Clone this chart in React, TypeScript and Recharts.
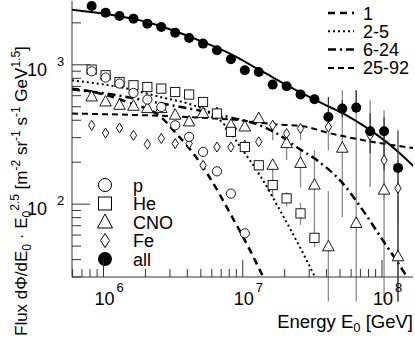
import React from 'react';
import { ComposedChart, XAxis, YAxis, Scatter, Line, ErrorBar, Customized } from 'recharts';

// ---- data ----
const energies = [8.22e5, 1.035e6, 1.303e6, 1.641e6, 2.065e6, 2.6e6, 3.273e6, 4.121e6, 5.188e6, 6.531e6, 8.222e6, 1.035e7, 1.303e7, 1.641e7, 2.065e7, 2.6e7, 3.273e7, 4.121e7, 5.188e7, 6.531e7, 8.222e7, 1.035e8, 1.303e8];

const allFlux = [2640, 2367, 2238, 2144, 1974, 1866, 1701, 1556, 1419, 1270, 1095, 913, 888, 721, 701, 612, 566, 422, 485, 493, 334, 334, 182];
const pFlux = [898, 810, 733, 628, 563, 498, 368, 304, 237, 172, 119, 61.7, null, null, null, null, null, null, null, null, null, null, null];
const heFlux = [924, 841, 753, 713, 693, 675, 638, 612, 541, 447, 330, 257, 190, 137, 110, 85.8, 57.3, null, null, null, null, null, null];
const cnoFlux = [588, 541, 512, 504, 485, 485, 435, 389, 447, 447, 368, 358, 411, 190, 272, 196, 137, 49.4, 252, 72.7, null, 126, 41.9];
const feFlux = [368, 324, 352, 312, 269, 296, 272, 272, 190, 257, 257, 265, 280, 368, 321, 349, null, 358, null, null, 312, 207, 130];

// error ranges (absolute flux, low / high) where visible
const allErrLow = [null, null, null, null, null, null, null, null, null, null, null, null, null, null, null, null, null, 358, 420, 449, 232, 175, 20];
const allErrHigh = [null, null, null, null, null, null, null, null, null, null, null, null, null, null, null, null, null, 588, 560, 656, 449, 420, 339];
const cnoErrLow = [null, null, null, null, null, null, null, null, null, null, null, null, null, 170, 207, 132, 65, 20, 81, 20, null, 20, 20];
const cnoErrHigh = [null, null, null, null, null, null, null, null, null, null, null, null, null, 207, 323, 244, 244, 124, 656, 656, null, 472, 107];
const heErrLow = [null, null, null, null, null, null, null, null, null, null, null, 238, 178, 112, 96, 71, 49, null, null, null, null, null, null];
const heErrHigh = [null, null, null, null, null, null, null, null, null, null, null, 278, 204, 175, 122, 102, 67, null, null, null, null, null, null];
const feErrLow = [null, null, null, null, null, null, null, null, null, null, null, null, null, 288, null, 288, null, 244, null, null, 132, 107, 77];
const feErrHigh = [null, null, null, null, null, null, null, null, null, null, null, null, null, 400, null, 380, null, 472, null, null, 557, 339, 207];

// fitted curves
const allFitE = [5.935e5, 2.046e6, 5.21e6, 8.09e6, 1.4e7, 2.43e7, 4.22e7, 5.56e7, 7.31e7, 9.64e7, 1.268e8, 1.71e8];
const allFitF = [2487, 2028, 1456, 1203, 888, 656, 498, 434, 368, 304, 244, 185];

const pLineE = [5.935e5, 1.0e6, 1.641e6, 2.162e6, 2.551e6, 3.266e6, 4.418e6, 5.821e6, 8.097e6, 1.126e7, 1.403e7, 1.848e7];
const pLineF = [675, 614, 521, 472, 427, 328, 231, 154, 86.2, 46.8, 30.0, 17.4];

const heLineE = [5.935e5, 1.472e6, 2.551e6, 4.4e6, 5.82e6, 7.455e6, 9.55e6, 1.328e7, 1.848e7, 2.57e7, 3.294e7, 3.88e7];
const heLineF = [774, 675, 588, 513, 456, 368, 260, 161, 90.6, 49.2, 30.0, 20.5];

const cnoLineE = [5.935e5, 1.0e6, 2.551e6, 5.183e6, 8.097e6, 1.328e7, 1.848e7, 2.446e7, 3.403e7, 5.229e7, 7.273e7, 1.012e8, 1.408e8, 1.716e8];
const cnoLineF = [667, 625, 530, 464, 420, 368, 312, 256, 207, 141, 90.6, 55.2, 33.6, 24.2];

const feLineE = [5.935e5, 9.55e6, 1.646e7, 2.701e7, 4.22e7, 7.273e7, 1.716e8];
const feLineF = [447, 400, 375, 362, 323, 288, 252];

const xMajor = [1e6, 1e7, 1e8];
const xMinor = [6e5, 7e5, 8e5, 9e5, 2e6, 3e6, 4e6, 5e6, 6e6, 7e6, 8e6, 9e6, 2e7, 3e7, 4e7, 5e7, 6e7, 7e7, 8e7, 9e7];
const yMajor = [100, 1000];
const yMinor = [30, 40, 50, 60, 70, 80, 90, 200, 300, 400, 500, 600, 700, 800, 900, 2000];

const lineLegend = ['1', '2-5', '6-24', '25-92'];
const markerLegend = ['p', 'He', 'CNO', 'Fe', 'all'];

// ---- helpers ----
const withErr = (vals: (number | null)[], lo: (number | null)[], hi: (number | null)[]) =>
  energies
    .map((e, i) => {
      const v = vals[i];
      const l = lo[i];
      const h = hi[i];
      return { x: e, y: v, err: v != null && l != null && h != null ? [v - l, h - v] : [0, 0] };
    })
    .filter((d) => d.y != null);
const noErr = (vals: (number | null)[]) => energies.map((e, i) => ({ x: e, y: vals[i] })).filter((d) => d.y != null);
const curve = (xs: number[], ys: number[]) => xs.map((x, i) => ({ x, y: ys[i] }));

const FONT = 'Liberation Sans, Arial, Helvetica, sans-serif';
const AX = '#333';
const ERR = '#8a8a8a';

const expOf = (v: number) => String(Math.round(Math.log10(v)));

const XTick = (props: any) => {
  const { x, y, payload } = props;
  const major = xMajor.includes(payload.value);
  return (
    <g>
      <line x1={x} x2={x} y1={y} y2={y - (major ? 17 : 8)} stroke={AX} strokeWidth={1} />
      {major && (
        <text fontFamily={FONT} fill="#000">
          <tspan x={x - 9} y={y + 28} fontSize={18}>10</tspan>
          <tspan x={x + 13} y={y + 15} fontSize={13}>{expOf(payload.value)}</tspan>
        </text>
      )}
    </g>
  );
};

const YTick = (props: any) => {
  const { x, y, payload } = props;
  const major = yMajor.includes(payload.value);
  return (
    <g>
      <line x1={x} x2={x + (major ? 18 : 9)} y1={y} y2={y} stroke={AX} strokeWidth={1} />
      {major && (
        <text fontFamily={FONT} fill="#000">
          <tspan x={x - 45} y={y + 11} fontSize={18}>10</tspan>
          <tspan x={x - 15} y={y + 1} fontSize={13}>{expOf(payload.value)}</tspan>
        </text>
      )}
    </g>
  );
};

const Circ = (p: any) => <circle cx={p.cx} cy={p.cy} r={4.6} fill="#fff" stroke="#000" strokeWidth={0.9} />;
const Sq = (p: any) => <rect x={p.cx - 4.6} y={p.cy - 4.6} width={9.2} height={9.2} fill="#fff" stroke="#000" strokeWidth={0.9} />;
const Tri = (p: any) => (
  <polygon points={`${p.cx},${p.cy - 6.5} ${p.cx - 5.8},${p.cy + 4} ${p.cx + 5.8},${p.cy + 4}`} fill="#fff" stroke="#000" strokeWidth={0.9} />
);
const Dia = (p: any) => (
  <polygon points={`${p.cx},${p.cy - 5} ${p.cx + 3.2},${p.cy} ${p.cx},${p.cy + 5} ${p.cx - 3.2},${p.cy}`} fill="#fff" stroke="#000" strokeWidth={0.9} />
);
const Dot = (p: any) => <circle cx={p.cx} cy={p.cy} r={5} fill="#000" />;

const lineStyles = [
  { dash: '7 5', w: 2.5 },
  { dash: '2 3', w: 2 },
  { dash: '8 4 2 4', w: 2.5 },
  { dash: '6 4', w: 2 },
];

const Overlay = () => (
  <g fontFamily={FONT} fill="#000">
    {lineLegend.map((t, i) => (
      <g key={t}>
        <line x1={328} x2={354} y1={13 + i * 18.3} y2={13 + i * 18.3} stroke="#000" strokeWidth={lineStyles[i].w} strokeDasharray={lineStyles[i].dash} />
        <text x={363} y={19.5 + i * 18.3} fontSize={18}>{t}</text>
      </g>
    ))}
    {markerLegend.map((t, i) => {
      const cy = 185 + i * 18.5;
      const cx = 105;
      let m: React.ReactNode = null;
      if (i === 0) m = <circle cx={cx} cy={cy} r={6.5} fill="#fff" stroke="#000" strokeWidth={1} />;
      if (i === 1) m = <rect x={cx - 6.5} y={cy - 6.5} width={13} height={13} fill="#fff" stroke="#000" strokeWidth={1} />;
      if (i === 2) m = <polygon points={`${cx},${cy - 8} ${cx - 7.5},${cy + 6} ${cx + 7.5},${cy + 6}`} fill="#fff" stroke="#000" strokeWidth={1} />;
      if (i === 3) m = <polygon points={`${cx},${cy - 7} ${cx + 4.5},${cy} ${cx},${cy + 7} ${cx - 4.5},${cy}`} fill="#fff" stroke="#000" strokeWidth={1} />;
      if (i === 4) m = <circle cx={cx} cy={cy} r={7} fill="#000" />;
      return (
        <g key={t}>
          {m}
          <text x={133} y={cy + 6.5} fontSize={18}>{t}</text>
        </g>
      );
    })}
    <text fontSize={18.5} textAnchor="end">
      <tspan x={413} y={328}>Energy E</tspan>
      <tspan dy={4} fontSize={13}>0</tspan>
      <tspan dy={-4}> [GeV]</tspan>
    </text>
    <text fontSize={17} transform="translate(27,336) rotate(-90)">
      <tspan>Flux dΦ/dE</tspan>
      <tspan dy={4} fontSize={12}>0</tspan>
      <tspan dy={-4}> · E</tspan>
      <tspan dy={4} fontSize={12}>0</tspan>
      <tspan dy={-12} fontSize={12}>2.5</tspan>
      <tspan dy={8}> [m</tspan>
      <tspan dy={-7} fontSize={12}>-2</tspan>
      <tspan dy={7}> sr</tspan>
      <tspan dy={-7} fontSize={12}>-1</tspan>
      <tspan dy={7}> s</tspan>
      <tspan dy={-7} fontSize={12}>-1</tspan>
      <tspan dy={7}> GeV</tspan>
      <tspan dy={-7} fontSize={12}>1.5</tspan>
      <tspan dy={7}>]</tspan>
    </text>
  </g>
);

export default function App() {
  return (
    <div style={{ position: 'absolute', left: 0, top: 0, width: 415, height: 339, background: '#fff' }}>
      <ComposedChart width={415} height={339} margin={{ top: 1, right: 2, bottom: 0, left: 0 }}>
        <XAxis
          xAxisId="b"
          type="number"
          dataKey="x"
          scale="log"
          domain={[5.94e5, 1.67e8]}
          allowDataOverflow
          ticks={[...xMinor, ...xMajor]}
          interval={0}
          tick={<XTick />}
          tickLine={false}
          tickSize={0}
          tickMargin={0}
          height={62}
          stroke={AX}
        />
        <XAxis xAxisId="t" orientation="top" type="number" scale="log" domain={[5.94e5, 1.67e8]} allowDataOverflow tick={false} tickLine={false} height={0} stroke={AX} />
        <YAxis
          yAxisId="l"
          type="number"
          dataKey="y"
          scale="log"
          domain={[30, 2870]}
          allowDataOverflow
          ticks={[...yMinor, ...yMajor]}
          interval={0}
          tick={<YTick />}
          tickLine={false}
          tickSize={0}
          tickMargin={0}
          width={72}
          stroke={AX}
        />
        <YAxis yAxisId="r" orientation="right" type="number" scale="log" domain={[30, 2870]} allowDataOverflow tick={false} tickLine={false} width={0} stroke={AX} />

        <Scatter xAxisId="b" yAxisId="l" data={withErr(cnoFlux, cnoErrLow, cnoErrHigh)} dataKey="y" shape={() => null} isAnimationActive={false}>
          <ErrorBar dataKey="err" direction="y" width={0} stroke={ERR} strokeWidth={1.3} />
        </Scatter>
        <Scatter xAxisId="b" yAxisId="l" data={withErr(heFlux, heErrLow, heErrHigh)} dataKey="y" shape={() => null} isAnimationActive={false}>
          <ErrorBar dataKey="err" direction="y" width={0} stroke={ERR} strokeWidth={1.3} />
        </Scatter>
        <Scatter xAxisId="b" yAxisId="l" data={withErr(feFlux, feErrLow, feErrHigh)} dataKey="y" shape={() => null} isAnimationActive={false}>
          <ErrorBar dataKey="err" direction="y" width={0} stroke={ERR} strokeWidth={1.3} />
        </Scatter>

        <Line xAxisId="b" yAxisId="l" data={curve(allFitE, allFitF)} dataKey="y" type="monotone" stroke="#000" strokeWidth={2} dot={false} isAnimationActive={false} />
        <Line xAxisId="b" yAxisId="l" data={curve(pLineE, pLineF)} dataKey="y" type="monotone" stroke="#000" strokeWidth={lineStyles[0].w} strokeDasharray={lineStyles[0].dash} dot={false} isAnimationActive={false} />
        <Line xAxisId="b" yAxisId="l" data={curve(heLineE, heLineF)} dataKey="y" type="monotone" stroke="#000" strokeWidth={lineStyles[1].w} strokeDasharray={lineStyles[1].dash} dot={false} isAnimationActive={false} />
        <Line xAxisId="b" yAxisId="l" data={curve(cnoLineE, cnoLineF)} dataKey="y" type="monotone" stroke="#000" strokeWidth={lineStyles[2].w} strokeDasharray={lineStyles[2].dash} dot={false} isAnimationActive={false} />
        <Line xAxisId="b" yAxisId="l" data={curve(feLineE, feLineF)} dataKey="y" type="monotone" stroke="#000" strokeWidth={lineStyles[3].w} strokeDasharray={lineStyles[3].dash} dot={false} isAnimationActive={false} />

        <Scatter xAxisId="b" yAxisId="l" data={noErr(feFlux)} dataKey="y" shape={Dia} isAnimationActive={false} />
        <Scatter xAxisId="b" yAxisId="l" data={noErr(cnoFlux)} dataKey="y" shape={Tri} isAnimationActive={false} />
        <Scatter xAxisId="b" yAxisId="l" data={noErr(heFlux)} dataKey="y" shape={Sq} isAnimationActive={false} />
        <Scatter xAxisId="b" yAxisId="l" data={noErr(pFlux)} dataKey="y" shape={Circ} isAnimationActive={false} />
        <Scatter xAxisId="b" yAxisId="l" data={withErr(allFlux, allErrLow, allErrHigh)} dataKey="y" shape={Dot} isAnimationActive={false}>
          <ErrorBar dataKey="err" direction="y" width={0} stroke="#333" strokeWidth={1.2} />
        </Scatter>
        <Customized component={Overlay} />
      </ComposedChart>
    </div>
  );
}
